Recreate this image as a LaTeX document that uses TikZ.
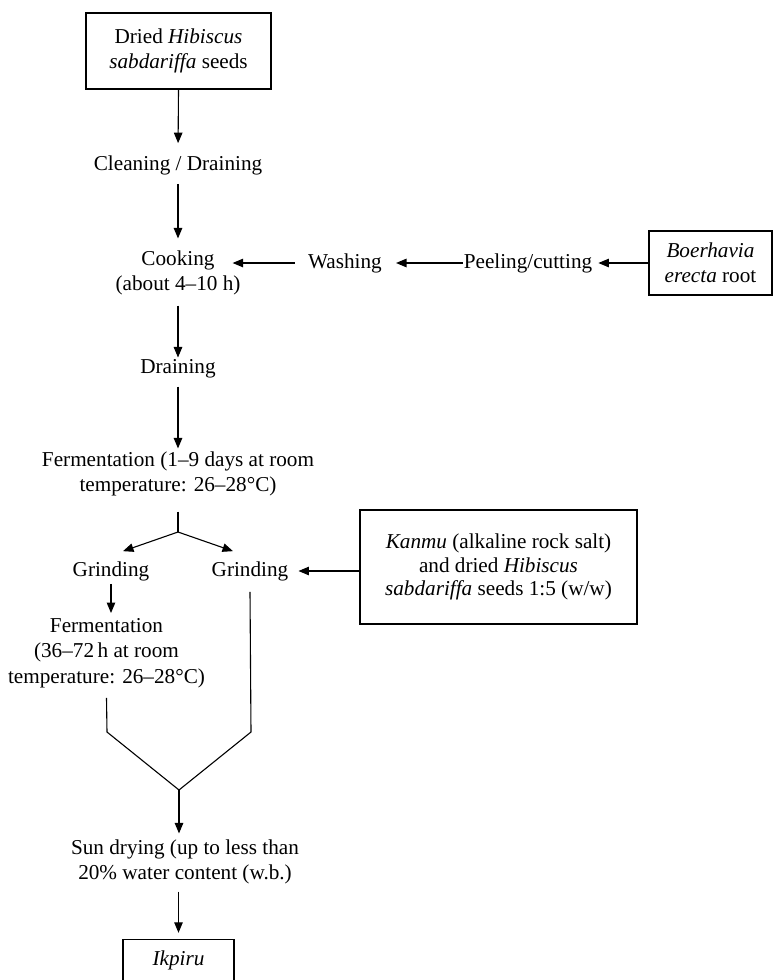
\documentclass[tikz,border=0pt]{standalone}
\usepackage{fontspec}
\setmainfont{Liberation Serif}
\usetikzlibrary{arrows.meta}
\begin{document}
\begin{tikzpicture}[x=1pt,y=-1pt,
  every node/.style={font=\fontsize{21.2}{25.5}\selectfont, align=center, inner sep=0pt},
  box/.style={draw, line width=1.4pt, inner sep=0pt},
  arr/.style={-{Triangle[length=10.5pt,width=8.5pt]}, line width=1.1pt},
  ln/.style={line width=1.1pt}]
\useasboundingbox (0,0) rectangle (773,980);

\node[box, minimum width=185pt, minimum height=76pt] (seeds) at (178.5,51) {Dried \textit{Hibiscus}\\\textit{sabdariffa} seeds};
\node (clean) at (178,165) {Cleaning / Draining};
\node (cook) at (178,273) {Cooking\\(about 4–10 h)};
\node (wash) at (345,263) {Washing};
\node (peel) at (528,263) {Peeling/cutting};
\node[box, minimum width=123pt, minimum height=64pt] (boer) at (710.5,263) {\textit{Boerhavia}\\\textit{erecta} root};
\node (drain) at (178,369) {Draining};
\node (ferm) at (178,474) {Fermentation (1–9 days at room\\temperature: 26–28°C)};
\coordinate (fork) at (178,532);
\node (grindL) at (111,571) {Grinding};
\node (grindR) at (250,571) {Grinding};
\node[box, minimum width=277pt, minimum height=114pt, font=\fontsize{21.2}{23.5}\selectfont] (kanmu) at (498.5,567) {\textit{Kanmu} (alkaline rock salt)\\and dried \textit{Hibiscus}\\\textit{sabdariffa} seeds 1:5 (w/w)};
\node (fermL) at (106.5,653) {Fermentation\\(36–72\,h at room\\temperature: 26–28°C)};
\coordinate (mergeL) at (107,732);
\coordinate (mergeR) at (251,732);
\coordinate (merge) at (179,790);
\node (sun) at (185,862) {Sun drying (up to less than\\20\% water content (w.b.)};
\node[box, minimum width=111pt, minimum height=41pt] (ik) at (178.5,960) {\textit{Ikpiru}};

% main column
\draw[arr, shorten >=12pt] (seeds.south) -- (clean.north);
\draw[arr, shorten <=9pt, shorten >=12pt] (clean.south) -- (clean.south |- cook.north);
\draw[arr, shorten <=10pt, shorten >=2pt] (cook.south) -- (drain.north);
\draw[arr, shorten <=8pt, shorten >=3pt] (drain.south) -- (ferm.north);
\draw[ln, shorten <=15pt] (ferm.south) -- (fork);
\draw[arr] (fork) -- ([xshift=12pt,yshift=10pt]grindL.north);
\draw[arr] (fork) -- ([xshift=-17pt,yshift=10pt]grindR.north);

% side chain
\draw[arr, shorten >=6pt] (boer.west) -- (peel.east);
\draw[arr, shorten <=1pt, shorten >=14pt] (peel.west) -- (wash.east);
\draw[arr, shorten <=13pt] (wash.west) -- ([xshift=-8pt]wash.west -| cook.east);
\draw[arr, shorten >=10pt] (kanmu.west |- grindR.east) -- (grindR.east);

% left branch
\draw[arr, shorten <=3pt, shorten >=5pt] (grindL.south) -- (grindL.south |- fermL.north);

% merge
\draw[ln] ([yshift=-10pt]fermL.south) -- (mergeL) -- (merge);
\draw[ln] ([yshift=-11pt]grindR.south) -- (mergeR) -- (merge);
\draw[arr, shorten >=6pt] (merge) -- (merge |- sun.north);
\draw[arr, shorten <=7pt, shorten >=6pt] (ik.north |- sun.south) -- (ik.north);
\end{tikzpicture}
\end{document}
